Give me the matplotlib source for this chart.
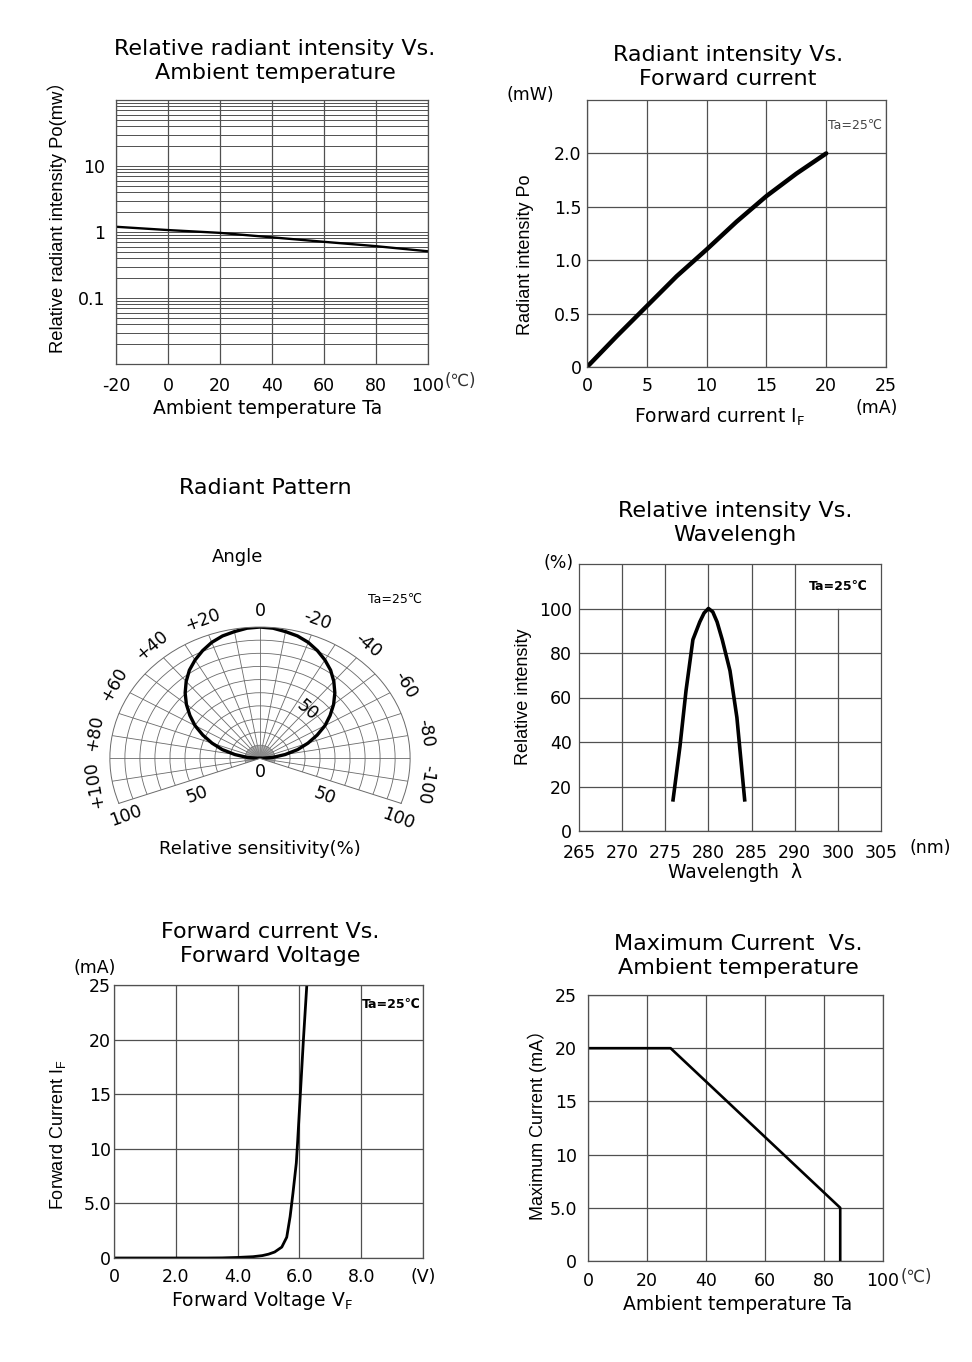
import numpy as np
import matplotlib
matplotlib.use("Agg")
import matplotlib.pyplot as plt
from matplotlib.ticker import FixedLocator, FixedFormatter, LogLocator, NullFormatter

HFONT = ['DejaVu Sans', 'Noto Sans CJK SC']
VFONT = ['Liberation Sans', 'Noto Sans CJK SC', 'DejaVu Sans']
plt.rcParams['font.family'] = HFONT

# ---------------- data ----------------
# Panel 1: relative radiant intensity vs ambient temperature
p1_temp = [-20, 0, 20, 40, 60, 80, 100]
p1_rel = [1.2, 1.07, 0.97, 0.83, 0.71, 0.61, 0.51]
p1_xticks = [-20, 0, 20, 40, 60, 80, 100]
p1_xlabels = ['-20', '0', '20', '40', '60', '80', '100']
p1_yticks = [0.1, 1, 10]
p1_ylabels = ['0.1', '1', '10']

# Panel 2: radiant intensity vs forward current
p2_if = [0, 2.5, 5, 7.5, 10, 12.5, 15, 17.5, 20]
p2_po = [0, 0.29, 0.57, 0.85, 1.1, 1.36, 1.6, 1.81, 2.0]
p2_xticks = [0, 5, 10, 15, 20, 25]
p2_xlabels = ['0', '5', '10', '15', '20', '25']
p2_yticks = [0, 0.5, 1.0, 1.5, 2.0]
p2_ylabels = ['0', '0.5', '1.0', '1.5', '2.0']

# Panel 3: radiant pattern (angle in degrees, relative %)
p3_angle = [-90, -85, -80, -75, -70, -65, -60, -55, -50, -45, -40, -35, -30,
            -25, -20, -15, -10, -5, 0, 5, 10, 15, 20, 25, 30, 35, 40, 45,
            50, 55, 60, 65, 70, 75, 80, 85, 90]
p3_rel = [0, 8.5, 17, 26, 34, 42, 50, 57, 64, 70.5, 76.5, 82, 86.5,
          90.5, 94, 96.5, 98, 99.5, 100, 99.5, 98, 96.5, 94, 90.5, 86.5, 82, 76.5, 70.5,
          64, 57, 50, 42, 34, 26, 17, 8.5, 0]
p3_angle_labels = [100, 80, 60, 40, 20, 0, -20, -40, -60, -80, -100]

# Panel 4: relative intensity vs wavelength
p4_wl = [275.9, 276.7, 277.4, 278.2, 278.6, 279.0, 279.5, 280.0, 280.5, 281.0,
         281.6, 282.5, 283.3, 284.2]
p4_rel = [14, 38, 63, 86, 90, 94, 98, 100, 98.5, 94, 86, 72, 51, 14]
p4_xticks = [265, 270, 275, 280, 285, 290, 295, 300]
p4_xlabels = ['265', '270', '275', '280', '285', '290', '300', '305']
p4_yticks = [0, 20, 40, 60, 80, 100]
p4_ylabels = ['0', '20', '40', '60', '80', '100']

# Panel 5: forward current vs forward voltage
p5_v = [0, 1.0, 2.0, 3.0, 3.5, 4.0, 4.5, 4.8, 5.0, 5.2, 5.43, 5.59, 5.70,
        5.79, 5.90, 5.94, 6.03, 6.13, 6.24]
p5_i = [0, 0, 0, 0, 0.01, 0.05, 0.12, 0.22, 0.35, 0.55, 1.0, 1.9, 3.8,
        5.9, 8.7, 10.5, 15, 20, 25]
p5_xticks = [0, 2, 4, 6, 8, 10]
p5_xlabels = ['0', '2.0', '4.0', '6.0', '8.0', '(V)']
p5_yticks = [0, 5, 10, 15, 20, 25]
p5_ylabels = ['0', '5.0', '10', '15', '20', '25']

# Panel 6: maximum current vs ambient temperature
p6_t = [0, 28, 85.5, 85.5]
p6_i = [20, 20, 5, 0]
p6_xticks = [0, 20, 40, 60, 80, 100]
p6_xlabels = ['0', '20', '40', '60', '80', '100']
p6_yticks = [0, 5, 10, 15, 20, 25]
p6_ylabels = ['0', '5.0', '10', '15', '20', '25']

# ---------------- layout helpers ----------------
W, H = 972, 1362
fig = plt.figure(figsize=(W / 100, H / 100), dpi=100)
fig.patch.set_facecolor('white')


def box(l, t, r, b):
    return [l / W, 1 - b / H, (r - l) / W, (b - t) / H]


def ftext(x, y, s, size=13, family=None, **kw):
    kw.setdefault('ha', 'center')
    kw.setdefault('va', 'center')
    fig.text(x / W, 1 - y / H, s, fontsize=size,
             family=family if family else HFONT, **kw)


GRID_C = '#505050'
GRID_LW = 0.9
TICK_FS = 12.5
TITLE_FS = 16
LABEL_FS = 13.5
TITLE_LS = 1.27


def style_axes(ax, padx=8, pady=5):
    for sp in ax.spines.values():
        sp.set_color(GRID_C)
        sp.set_linewidth(GRID_LW)
    ax.tick_params(which='both', length=0, labelsize=TICK_FS, colors='black')
    ax.tick_params(axis='x', pad=padx)
    ax.tick_params(axis='y', pad=pady)


# ---------------- Panel 1 ----------------
ax1 = fig.add_axes(box(116, 100, 428, 364))
ax1.plot(p1_temp, p1_rel, color='black', lw=1.7)
ax1.set_yscale('log')
ax1.set_xlim(-20, 100)
ax1.set_ylim(0.01, 100)
ax1.set_xticks(p1_xticks)
ax1.set_xticklabels(p1_xlabels)
ax1.yaxis.set_major_locator(FixedLocator(p1_yticks))
ax1.yaxis.set_major_formatter(FixedFormatter(p1_ylabels))
ax1.yaxis.set_minor_locator(LogLocator(base=10, subs=np.arange(2, 10)))
ax1.yaxis.set_minor_formatter(NullFormatter())
ax1.grid(which='both', axis='y', color=GRID_C, lw=0.7)
ax1.grid(which='major', axis='x', color=GRID_C, lw=GRID_LW)
style_axes(ax1, padx=9, pady=8)
ftext(275, 61, 'Relative radiant intensity Vs.\nAmbient temperature', TITLE_FS, linespacing=TITLE_LS)
ftext(57, 213, 'Relative radiant intensity Po(mw\uff09', 13.2, VFONT, rotation=90)
ftext(445, 381, '(\u2103)', 12, color='#333333', ha='left')
ftext(268, 408, 'Ambient temperature Ta', LABEL_FS)

# ---------------- Panel 2 ----------------
ax2 = fig.add_axes(box(587, 100, 886, 367))
ax2.plot(p2_if, p2_po, color='black', lw=3.2, solid_capstyle='round')
ax2.set_xlim(0, 25)
ax2.set_ylim(0, 2.5)
ax2.set_xticks(p2_xticks)
ax2.set_xticklabels(p2_xlabels)
ax2.set_yticks(p2_yticks)
ax2.set_yticklabels(p2_ylabels)
ax2.grid(True, color=GRID_C, lw=GRID_LW)
style_axes(ax2, padx=7, pady=4)
ftext(728, 67, 'Radiant intensity Vs.\nForward current', TITLE_FS, linespacing=TITLE_LS)
ftext(530, 95, '(mW)', 12.5)
ftext(525, 255, 'Radiant intensity Po', 13, VFONT, rotation=90)
ftext(720, 417, r'Forward current I$\mathregular{_F}$', LABEL_FS)
ftext(877, 408, '(mA)', 12.5)
ftext(855, 125, 'Ta=25\u2103', 9, color='#444444')

# ---------------- Panel 3 (polar) ----------------
ax3 = fig.add_axes(box(108, 582.2, 412, 848.2), projection='polar')
ax3.set_theta_zero_location('N')
ax3.set_theta_direction(1)
ax3.set_thetalim(np.deg2rad(-110), np.deg2rad(110))
ax3.set_rlim(0, 100)
ax3.set_aspect('auto')
ax3.set_xticks(np.deg2rad(np.arange(-100, 101, 10)))
ax3.set_yticks(np.arange(10, 100, 10))
ax3.xaxis.set_major_formatter(NullFormatter())
ax3.yaxis.set_major_formatter(NullFormatter())
ax3.tick_params(length=0)
ax3.grid(True, color='#6a6a6a', lw=0.6)
for sp in ax3.spines.values():
    sp.set_color('#6a6a6a')
    sp.set_linewidth(0.7)
for a in np.arange(-110, 111, 2.5):
    ax3.plot([np.deg2rad(a)] * 2, [0, 10], color='#8a8a8a', lw=0.35)
ax3.plot(np.deg2rad(p3_angle), p3_rel, color='black', lw=2.4)
for a in p3_angle_labels:
    s = '0' if a == 0 else ('%+d' % a)
    ax3.text(np.deg2rad(a), 112, s, rotation=a, ha='center', va='center',
             rotation_mode='anchor', fontsize=12.5, clip_on=False)
ax3.text(np.deg2rad(123), 50, '50', rotation=20, ha='center', va='center',
         rotation_mode='anchor', fontsize=12.5, clip_on=False)
ax3.text(np.deg2rad(116), 99, '100', rotation=20, ha='center', va='center',
         rotation_mode='anchor', fontsize=12.5, clip_on=False)
ax3.text(np.deg2rad(-123.5), 52, '50', rotation=-20, ha='center', va='center',
         rotation_mode='anchor', fontsize=12.5, clip_on=False)
ax3.text(np.deg2rad(-116.5), 103, '100', rotation=-20, ha='center', va='center',
         rotation_mode='anchor', fontsize=12.5, clip_on=False)
ax3.text(np.deg2rad(-40.6), 48.5, '50', rotation=-40, ha='center', va='center',
         rotation_mode='anchor', fontsize=12.5, clip_on=False)
ax3.text(np.pi, 10, '0', ha='center', va='center', fontsize=12.5, clip_on=False)
ftext(265, 488, 'Radiant Pattern', TITLE_FS)
ftext(238, 557, 'Angle', 13)
ftext(395, 599, 'Ta=25\u2103', 9)
ftext(260, 849, 'Relative sensitivity(%)', 13)

# ---------------- Panel 4 ----------------
ax4 = fig.add_axes(box(579, 564, 881, 831))
ax4.plot(p4_wl, p4_rel, color='black', lw=2.6, solid_joinstyle='round')
ax4.set_xlim(265, 300)
ax4.set_ylim(0, 120)
ax4.set_xticks(p4_xticks)
ax4.set_xticklabels(p4_xlabels)
ax4.set_yticks(p4_yticks)
ax4.set_yticklabels(p4_ylabels)
ax4.grid(True, axis='y', color=GRID_C, lw=GRID_LW)
for xv in p4_xticks[1:-2]:
    ax4.axvline(xv, color=GRID_C, lw=GRID_LW, zorder=0.5)
ax4.axvline(p4_xticks[-2], ymax=100 / 120, color=GRID_C, lw=GRID_LW, zorder=0.5)
style_axes(ax4, padx=9, pady=5)
ftext(735, 523, 'Relative intensity Vs.\nWavelengh', TITLE_FS, linespacing=TITLE_LS)
ftext(559, 563, '(%)', 12.5)
ftext(523, 697, 'Relative intensity', 13, VFONT, rotation=90)
ftext(930, 848, '(nm)', 12.5)
ftext(735, 872, 'Wavelength  \u03bb', LABEL_FS)
ftext(838, 586, 'Ta=25\u2103', 9, weight='bold')

# ---------------- Panel 5 ----------------
ax5 = fig.add_axes(box(114, 985, 423, 1258))
ax5.plot(p5_v, p5_i, color='black', lw=2.0, solid_joinstyle='round')
ax5.set_xlim(0, 10)
ax5.set_ylim(0, 25)
ax5.set_xticks(p5_xticks)
ax5.set_xticklabels(p5_xlabels)
ax5.set_yticks(p5_yticks)
ax5.set_yticklabels(p5_ylabels)
ax5.grid(True, color=GRID_C, lw=GRID_LW)
style_axes(ax5, padx=7, pady=2)
ftext(270, 944, 'Forward current Vs.\nForward Voltage', TITLE_FS, linespacing=TITLE_LS)
ftext(95, 968, '(mA)', 12.5)
ftext(58, 1135, r'Forward Current I$\mathregular{_F}$', 13, VFONT, rotation=90)
ftext(262, 1301, r'Forward Voltage V$\mathregular{_F}$', LABEL_FS)
ftext(391, 1005, 'Ta=25\u2103', 9, weight='bold')

# ---------------- Panel 6 ----------------
ax6 = fig.add_axes(box(588, 995, 883, 1261))
ax6.plot(p6_t, p6_i, color='black', lw=1.9)
ax6.set_xlim(0, 100)
ax6.set_ylim(0, 25)
ax6.set_xticks(p6_xticks)
ax6.set_xticklabels(p6_xlabels)
ax6.set_yticks(p6_yticks)
ax6.set_yticklabels(p6_ylabels)
ax6.grid(True, color=GRID_C, lw=GRID_LW)
style_axes(ax6, padx=8, pady=8)
ftext(738, 956, 'Maximum Current  Vs.\nAmbient temperature', TITLE_FS, linespacing=TITLE_LS)
ftext(537, 1120, 'Maximum Current (mA\uff09', 13, VFONT, rotation=90)
ftext(901, 1277, '(\u2103)', 12, color='#333333', ha='left')
ftext(738, 1305, 'Ambient temperature Ta', LABEL_FS)

fig.savefig('out.png', dpi=100, facecolor='white')
